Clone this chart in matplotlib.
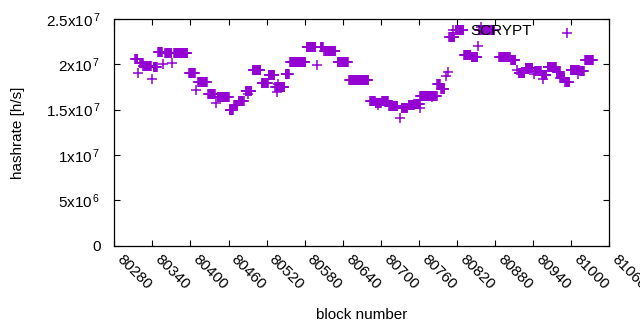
#!/usr/bin/env python
"""Hashrate per block, SCRYPT."""
import numpy as np
import matplotlib
matplotlib.use('Agg')
import matplotlib.pyplot as plt

plt.rcParams['font.family'] = ['Liberation Sans', 'DejaVu Sans']
plt.rcParams['mathtext.fontset'] = 'custom'
plt.rcParams['mathtext.rm'] = 'Liberation Sans'
plt.rcParams['mathtext.it'] = 'Liberation Sans:italic'
plt.rcParams['mathtext.bf'] = 'Liberation Sans:bold'

# runs of consecutive blocks that share the same hashrate (units of 1e7 h/s)
run_start = [80313, 80321, 80326, 80342, 80349, 80360, 80374, 80398, 80412, 80428,
             80443, 80462, 80469, 80476, 80487, 80498, 80512, 80523, 80534, 80550,
             80557, 80583, 80605, 80611, 80632, 80650, 80683, 80692, 80702, 80713,
             80733, 80744, 80753, 80762, 80789, 80795, 80808, 80818, 80831, 80843,
             80855, 80887, 80905, 80917, 80928, 80943, 80954, 80963, 80977, 80983,
             80991, 80999, 81014, 81022]
run_end = [80316, 80325, 80338, 80347, 80355, 80370, 80395, 80407, 80426, 80438,
           80460, 80467, 80474, 80484, 80496, 80510, 80522, 80532, 80548, 80555,
           80581, 80597, 80609, 80628, 80648, 80680, 80691, 80700, 80711, 80726,
           80742, 80752, 80761, 80788, 80793, 80800, 80816, 80830, 80841, 80852,
           80879, 80903, 80912, 80926, 80939, 80952, 80961, 80976, 80982, 80989,
           80997, 81012, 81020, 81034]
run_value = [2.055, 2.02, 1.98, 1.97, 2.14, 2.12, 2.12, 1.90, 1.81, 1.67,
             1.64, 1.495, 1.55, 1.59, 1.71, 1.935, 1.79, 1.88, 1.745, 1.89,
             2.03, 2.19, 2.19, 2.145, 2.03, 1.83, 1.595, 1.57, 1.595, 1.54,
             1.52, 1.55, 1.565, 1.655, 1.78, 1.73, 2.30, 2.38, 2.10, 2.08,
             2.38, 2.08, 2.045, 1.90, 1.96, 1.93, 1.88, 1.975, 1.92, 1.85,
             1.805, 1.935, 1.93, 2.045]

# isolated blocks
single_block = [80318, 80340, 80357, 80371, 80409, 80440, 80490, 80514, 80536, 80538,
                80600, 80696, 80730, 80762, 80780, 80803, 80806, 80853, 80858, 80914,
                80941, 80956, 80994, 81011]
single_value = [1.90, 1.84, 2.00, 2.01, 1.715, 1.57, 1.67, 1.79, 1.70, 1.78,
                1.99, 1.55, 1.41, 1.52, 1.64, 1.87, 1.92, 2.20, 2.41, 1.94,
                1.89, 1.84, 2.35, 1.89]

blocks = [np.arange(s, e + 1) for s, e in zip(run_start, run_end)]
values = [np.full(len(b), v) for b, v in zip(blocks, run_value)]
blocks = np.concatenate(blocks + [np.array(single_block)])
values = np.concatenate(values + [np.array(single_value)]) * 1e7

fig = plt.figure(figsize=(6.4, 3.3), dpi=100)
ax = fig.add_axes([0.1786, 0.2555, 0.7734, 0.687])

ax.plot(blocks, values, linestyle='none', marker='+', markersize=6.5,
        markeredgewidth=1.1, color='#9400D3', label='SCRYPT')

ax.set_xlim(80280, 81060)
ax.set_ylim(0, 2.5e7)
ax.set_xticks(np.arange(80280, 81061, 60))
ax.set_yticks(np.arange(0, 2.51e7, 5e6))
ax.set_yticklabels(['0', r'5x10$^{\,6}$', r'1x10$^{\,7}$', r'1.5x10$^{\,7}$',
                    r'2x10$^{\,7}$', r'2.5x10$^{\,7}$'])
for lab in ax.get_xticklabels():
    lab.set_rotation(-45)
    lab.set_ha('left')
    lab.set_va('top')

ax.tick_params(direction='in', length=4, width=0.8, top=True, right=True,
               labelsize=11)
ax.tick_params(axis='x', pad=5)
ax.tick_params(axis='y', pad=10)
for sp in ax.spines.values():
    sp.set_linewidth(0.9)

ax.set_xlabel('block number', fontsize=11, labelpad=11)
ax.set_ylabel('hashrate [h/s]', fontsize=11, labelpad=15)

ax.legend(loc='center left', bbox_to_anchor=(0.669, 0.947), frameon=False,
          handlelength=1.0, handletextpad=0.6, borderpad=0, borderaxespad=0,
          fontsize=11)

fig.savefig('out.png', dpi=100)
